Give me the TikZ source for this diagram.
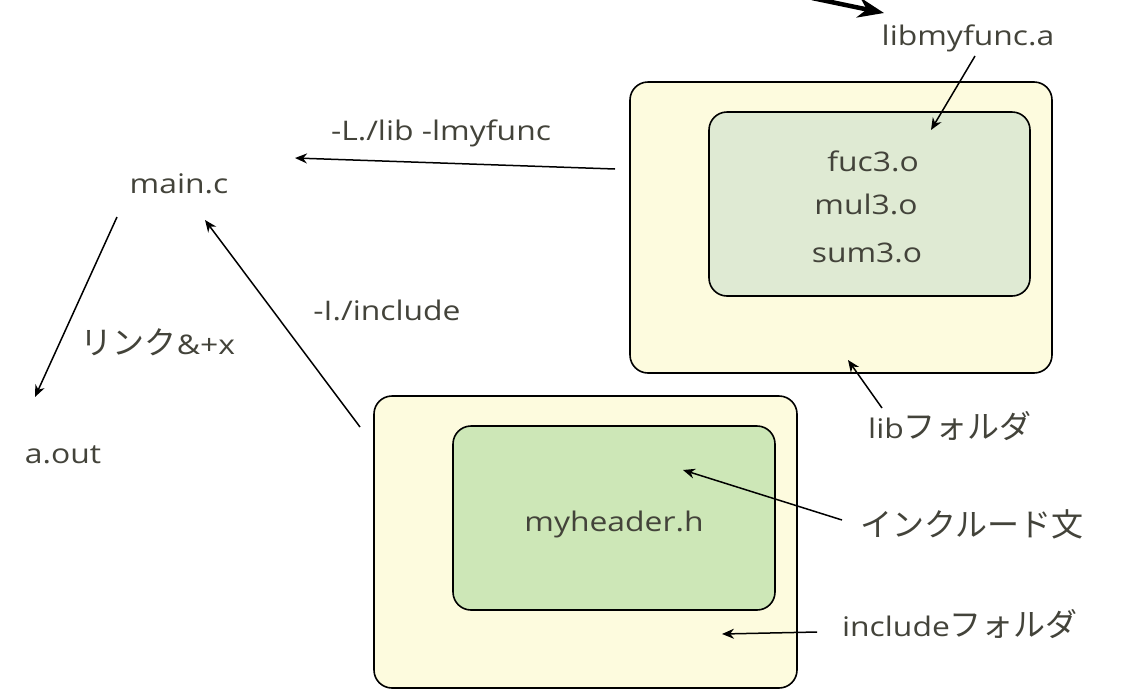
\documentclass[tikz,border=0pt]{standalone}
\usepackage{fontspec}
\setmainfont{Open Sans}[FakeStretch=1.18]
\newfontfamily\jpfam{Noto Sans CJK JP}
\newcommand\jpf{\jpfam\fontsize{32}{36}\selectfont}
\usetikzlibrary{arrows.meta}
\definecolor{txt}{HTML}{43433A}
\definecolor{outerfill}{HTML}{FDFBDE}
\definecolor{libfill}{HTML}{DFEAD3}
\definecolor{incfill}{HTML}{CDE7B7}
\begin{document}
\begin{tikzpicture}[x=1pt,y=-1pt,
  lbl/.style={anchor=base, inner sep=0pt, text=txt, font=\fontsize{27}{32}\selectfont},
  box/.style={draw=black, line width=1.6pt, rounded corners=18pt, inner sep=0pt},
  arr/.style={draw=black, line width=1.5pt, -{Stealth[length=12pt,width=10pt]}},
  thickarr/.style={draw=black, line width=4.5pt, -{Stealth[length=26pt,width=20pt]}}]
\useasboundingbox (0,0) rectangle (1126,689);
% boxes
\node[box, fill=outerfill, minimum width=422pt, minimum height=291pt] (libbox) at (841,227.5) {};
\node[box, fill=libfill, minimum width=321pt, minimum height=184pt] (libinner) at (869.5,204) {};
\node[box, fill=outerfill, minimum width=423pt, minimum height=292pt] (incbox) at (585.5,542) {};
\node[box, fill=incfill, minimum width=322pt, minimum height=184pt] (incinner) at (614,518) {};
% labels
\node[lbl] (libmyfunc) at (968,45) {libmyfunc.a};
\node[lbl] (Lopt) at (441,140) {-L./lib -lmyfunc};
\node[lbl] (mainc) at (179,193) {main.c};
\node[lbl] (aout) at (63,463) {a.out};
\node[lbl] (link) at (158,354) {{\jpf リンク}\&+x};
\node[lbl] (Iopt) at (387,320) {-I./include};
\node[lbl] (fuc) at (873,171) {fuc3.o};
\node[lbl] (mul) at (866,214) {mul3.o};
\node[lbl] (sum) at (867,262) {sum3.o};
\node[lbl] (myheader) at (614,531) {myheader.h};
\node[lbl] (libfolder) at (950,438) {lib{\jpf フォルダ}};
\node[lbl] (incstmt) at (972,536) {\jpf インクルード文};
\node[lbl] (incfolder) at (960,636) {include{\jpf フォルダ}};
% connector end points
\coordinate (topfree) at (812,-2);
\coordinate (topend) at (884,13);
\coordinate (libA1) at (975,56);
\coordinate (libA2) at (931,130);
\coordinate (L1) at (615,169);
\coordinate (L2) at (295,158);
\coordinate (M1) at (117,217);
\coordinate (M2) at (35,397);
\coordinate (I1) at (360,427);
\coordinate (I2) at (205,220);
\coordinate (LF1) at (882,408);
\coordinate (LF2) at (848,360);
\coordinate (IS1) at (842,520);
\coordinate (IS2) at (683,470);
\coordinate (IF1) at (817,632);
\coordinate (IF2) at (722,634);
% connectors
\draw[thickarr] (topfree) -- (topend);
\draw[arr] (libA1) -- (libA2);
\draw[arr] (L1) -- (L2);
\draw[arr] (M1) -- (M2);
\draw[arr] (I1) -- (I2);
\draw[arr] (LF1) -- (LF2);
\draw[arr] (IS1) -- (IS2);
\draw[arr] (IF1) -- (IF2);
\end{tikzpicture}
\end{document}
